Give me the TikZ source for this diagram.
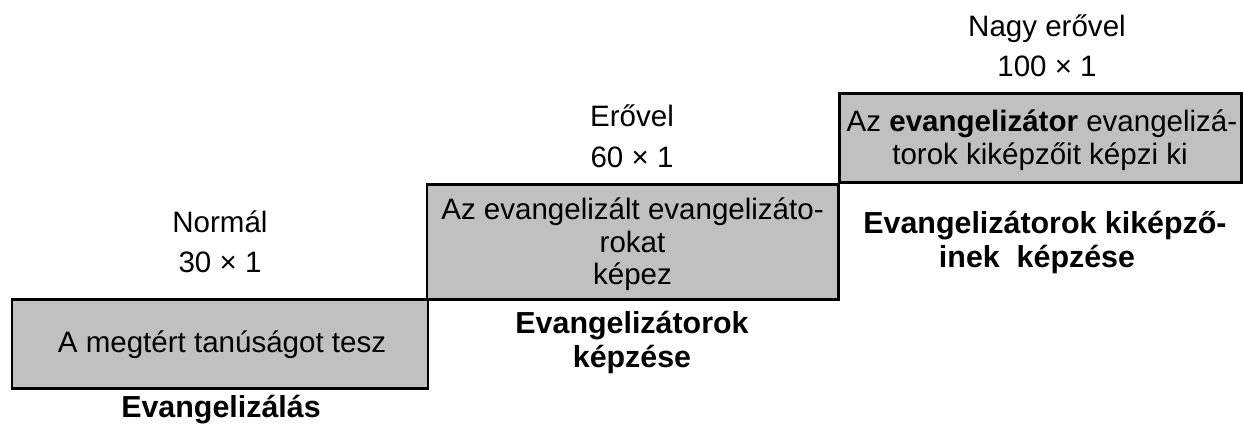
\documentclass[tikz,border=0pt]{standalone}
\usepackage{fontspec}
\setmainfont{Liberation Sans}
\definecolor{boxgray}{RGB}{192,192,192}
\tikzset{
  stepbox/.style={draw=black,fill=boxgray,line width=1.7pt},
  txt/.style={anchor=base,inner sep=0pt,font=\fontsize{16.8pt}{20pt}\selectfont},
  ttl/.style={txt,font=\fontsize{17.3pt}{20pt}\selectfont\bfseries}
}

\begin{document}
\begin{tikzpicture}[line join=miter]
  \useasboundingbox (0,0) rectangle (24.88,8.64);
  \coordinate (A1) at (0.24,0.86);
  \coordinate (A2) at (8.56,2.64);
  \coordinate (B1) at (8.54,2.64);
  \coordinate (B2) at (16.76,4.94);
  \coordinate (C1) at (16.78,4.98);
  \coordinate (C2) at (24.82,6.76);
  \draw[stepbox] (A1) rectangle (A2);
  \draw[stepbox] (B1) rectangle (B2);
  \draw[stepbox] (C1) rectangle (C2);
  \node[txt] (normal) at (4.40,3.98) {Normál};
  \node[txt] (szor30) at (4.40,3.18) {30 × 1};
  \node[txt] (erovel) at (12.64,6.10) {Erővel};
  \node[txt] (szor60) at (12.64,5.28) {60 × 1};
  \node[txt] (nagy) at (20.94,7.90) {Nagy erővel};
  \node[txt] (szor100) at (20.94,7.10) {100 × 1};
  \node[txt] (tanu) at (4.44,1.58) {A megtért tanúságot tesz};
  \node[txt] (kepez1) at (12.65,4.24) {Az evangelizált evangelizáto-};
  \node[txt] (kepez2) at (12.65,3.59) {rokat};
  \node[txt] (kepez3) at (12.65,2.94) {képez};
  \node[txt] (kikep1) at (20.84,6.00) {Az \textbf{evangelizátor} evangelizá-};
  \node[txt] (kikep2) at (20.80,5.34) {torok kiképzőit képzi ki};
  \node[ttl] (evang) at (4.42,0.28) {Evangelizálás};
  \node[ttl] (kepzes1) at (12.64,1.96) {Evangelizátorok};
  \node[ttl] (kepzes2) at (12.64,1.28) {képzése};
  \node[ttl] (kikepzes1) at (20.90,3.96) {Evangelizátorok kiképző-};
  \node[ttl] (kikepzes2) at (20.74,3.28) {inek~ képzése};
\end{tikzpicture}
\end{document}
